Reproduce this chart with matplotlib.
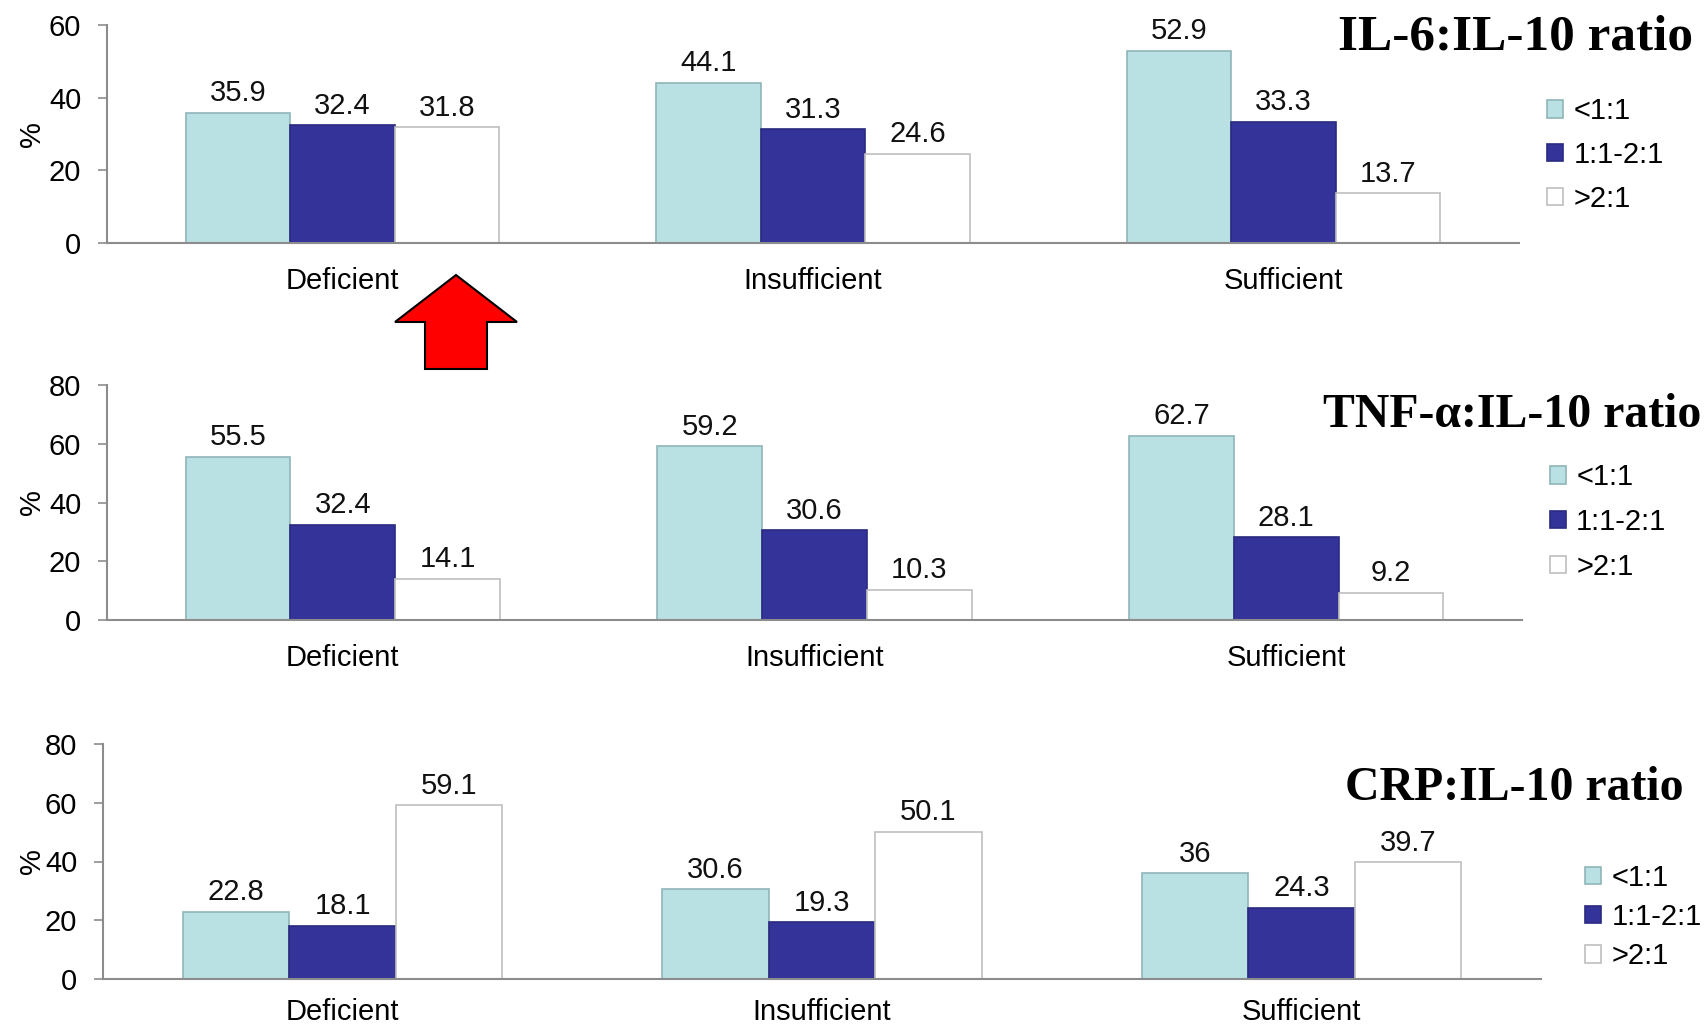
import matplotlib
matplotlib.use("Agg")
import matplotlib.pyplot as plt
from matplotlib.patches import Polygon
import numpy as np

plt.rcParams['font.family'] = ['Liberation Sans', 'DejaVu Sans']

categories = ["Deficient", "Insufficient", "Sufficient"]
series_names = ["<1:1", "1:1-2:1", ">2:1"]

il6_low = [35.9, 44.1, 52.9]
il6_mid = [32.4, 31.3, 33.3]
il6_high = [31.8, 24.6, 13.7]

tnf_low = [55.5, 59.2, 62.7]
tnf_mid = [32.4, 30.6, 28.1]
tnf_high = [14.1, 10.3, 9.2]

crp_low = [22.8, 30.6, 36]
crp_mid = [18.1, 19.3, 24.3]
crp_high = [59.1, 50.1, 39.7]

titles = ["IL-6:IL-10 ratio", "TNF-\u03b1:IL-10 ratio", "CRP:IL-10 ratio"]
y_ticks = [[0, 20, 40, 60], [0, 20, 40, 60, 80], [0, 20, 40, 60, 80]]

fill_colors = ["#B9E0E2", "#333399", "#FFFFFF"]
edge_colors = ["#8FB5B8", "#2A2A80", "#BFBFBF"]
axis_color = "#8C8C8C"

W, H = 1704, 1027
fig = plt.figure(figsize=(W / 100, H / 100), dpi=100)
renderer = fig.canvas.get_renderer()


def frac_rect(left, right, top, bottom):
    return [left / W, 1 - bottom / H, (right - left) / W, (bottom - top) / H]


panels = [
    dict(rect=frac_rect(107, 1519, 25, 243), data=[il6_low, il6_mid, il6_high],
         legend_xy=(1547, 155), spacing=0.54, title_xy=(1338, 50), title_w=354,
         xpad=17),
    dict(rect=frac_rect(107, 1522, 385, 620), data=[tnf_low, tnf_mid, tnf_high],
         legend_xy=(1550, 522), spacing=0.58, title_xy=(1323, 427), title_w=378,
         xpad=17),
    dict(rect=frac_rect(103, 1541, 744, 979), data=[crp_low, crp_mid, crp_high],
         legend_xy=(1585, 917), spacing=0.38, title_xy=(1345, 800), title_w=338,
         xpad=14),
]

x = np.arange(len(categories))
bw = 0.222
fs = 21


def title_size(text, width_px, base=40):
    t = fig.text(0, 0, text, fontsize=base, fontweight="bold",
                 family="Liberation Serif")
    w = t.get_window_extent(renderer).width
    t.remove()
    return base * width_px / w


sizes = [title_size(t, p["title_w"]) for t, p in zip(titles, panels)]

for i, p in enumerate(panels):
    ax = fig.add_axes(p["rect"])
    handles = []
    for k, vals in enumerate(p["data"]):
        bars = ax.bar(x + (k - 1) * bw, vals, width=bw, color=fill_colors[k],
                      edgecolor=edge_colors[k], linewidth=1.2, label=series_names[k])
        handles.append(bars)
        for b, v in zip(bars, vals):
            ax.annotate(f"{v:g}", (b.get_x() + b.get_width() / 2, v),
                        xytext=(0, 4), textcoords="offset points",
                        ha="center", va="bottom", fontsize=fs, color="#111111")
    ax.set_xlim(-0.5, 2.5)
    yt = y_ticks[i]
    ax.set_ylim(0, yt[-1])
    ax.set_yticks(yt)
    ax.set_xticks(x)
    ax.set_xticklabels(categories, fontsize=fs)
    ax.tick_params(axis="x", length=0, pad=p["xpad"])
    ax.tick_params(axis="y", length=6.5, width=1.2, color=axis_color,
                   labelsize=fs, pad=12)
    for s in ["top", "right"]:
        ax.spines[s].set_visible(False)
    for s in ["left", "bottom"]:
        ax.spines[s].set_color(axis_color)
        ax.spines[s].set_linewidth(1.5)
    ax.set_ylabel("%", fontsize=fs)
    left_px = p["rect"][0] * W
    width_px = p["rect"][2] * W
    ax.yaxis.set_label_coords((46 - left_px) / width_px, 0.5)

    lx, ly = p["legend_xy"]
    fig.legend(handles=handles, labels=series_names, loc="center left",
               bbox_to_anchor=(lx / W, 1 - ly / H), frameon=False, fontsize=fs,
               handlelength=0.55, handleheight=0.55, handletextpad=0.35,
               labelspacing=p["spacing"], borderaxespad=0, borderpad=0)

    tx, ty = p["title_xy"]
    fig.text(tx / W, 1 - ty / H, titles[i], fontsize=sizes[i],
             fontweight="bold", family="Liberation Serif", ha="left",
             va="baseline", color="black")

# red up-arrow between the first two panels
arrow_px = [(456, 275), (517, 322), (487, 322), (487, 369), (425, 369),
            (425, 322), (395, 322)]
arrow = Polygon([(px / W, 1 - py / H) for px, py in arrow_px], closed=True,
                facecolor="#FF0000", edgecolor="black", linewidth=1.5,
                transform=fig.transFigure)
fig.patches.append(arrow)

fig.savefig("out.png", dpi=100)
